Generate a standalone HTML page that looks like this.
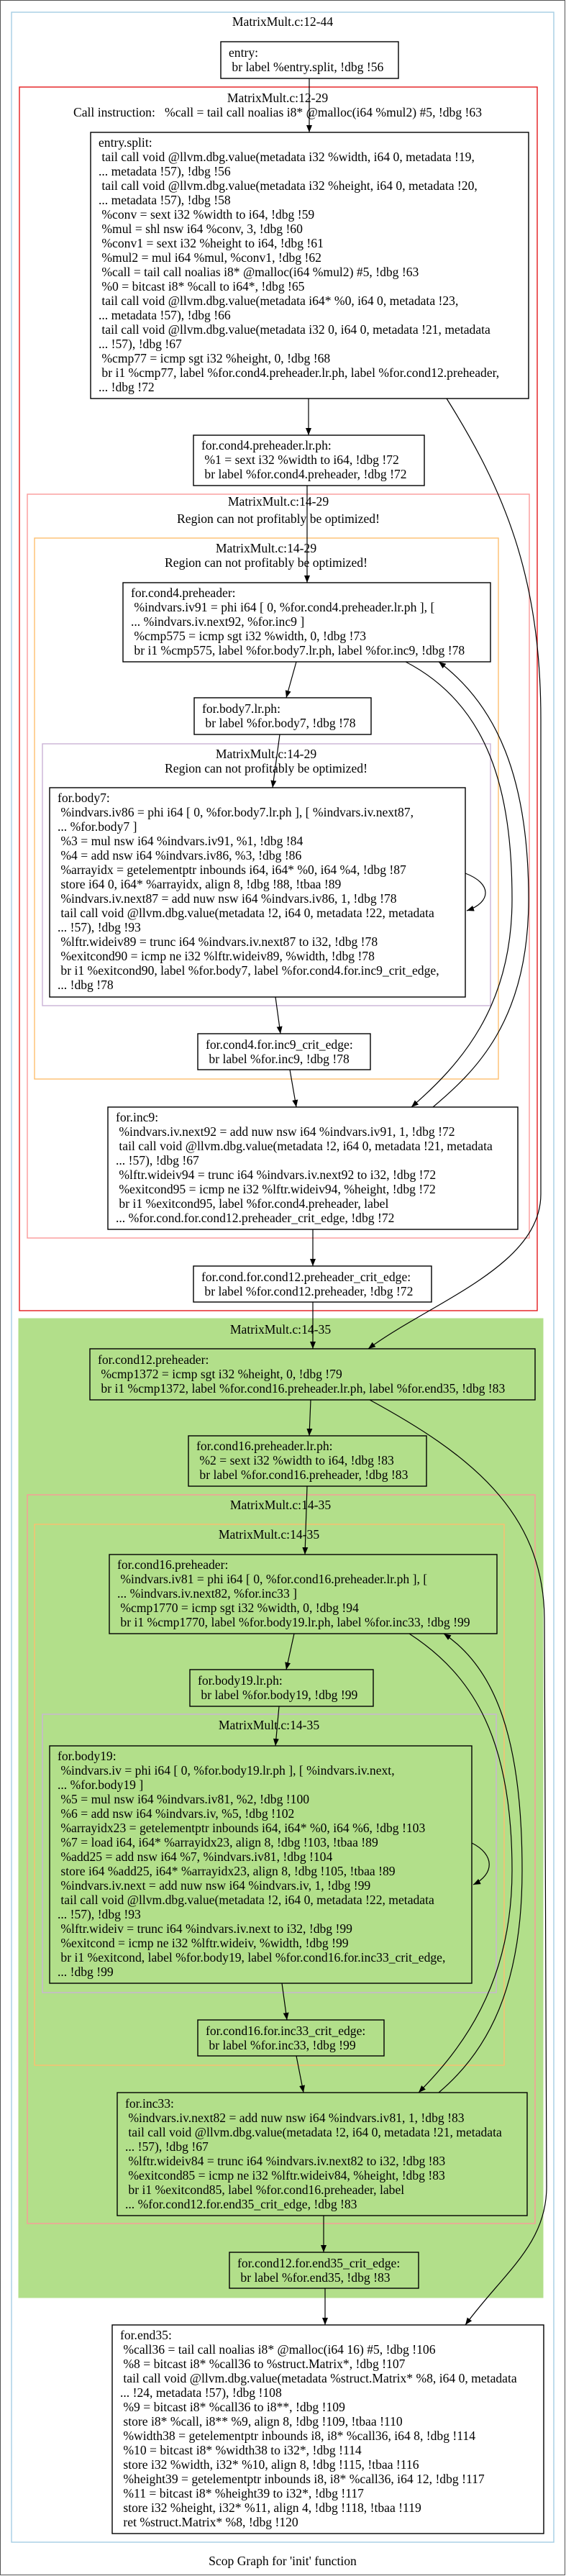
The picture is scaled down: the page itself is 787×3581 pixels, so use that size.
<!DOCTYPE html>
<html><head><meta charset="utf-8"><style>
html,body{margin:0;padding:0;background:#fff;}
svg{display:block;}
text{font-family:"Liberation Serif",serif;font-size:17.6px;fill:#000;white-space:pre;}
.c{text-anchor:middle;}
.b{fill:#fff;stroke:#000;stroke-width:1.4;}
.g{fill:none;stroke:#000;stroke-width:1.4;}
.e{fill:none;stroke:#000;stroke-width:1.2;marker-end:url(#ah);}
</style></head><body>
<svg width="787" height="3581" viewBox="0 0 787 3581" xmlns="http://www.w3.org/2000/svg">
<defs><marker id="ah" markerWidth="10" markerHeight="8" refX="10" refY="4" orient="auto" markerUnits="userSpaceOnUse"><path d="M0,0 L10,4 L0,8 z" fill="#000"/></marker></defs>
<rect x="0.5" y="0.5" width="785" height="3579" fill="#fff" stroke="#555" stroke-width="1"/>
<!-- clusters -->
<rect x="16" y="17" width="754" height="3517" fill="none" stroke="#a6cee3" stroke-width="1.4"/>
<text class="c" x="393" y="36">MatrixMult.c:12-44</text>
<rect x="27" y="121" width="720" height="1701" fill="none" stroke="#e31a1c" stroke-width="1.4"/>
<text class="c" x="386" y="142">MatrixMult.c:12-29</text>
<text class="c" x="386" y="162">Call instruction:   %call = tail call noalias i8* @malloc(i64 %mul2) #5, !dbg !63</text>
<rect x="38" y="687" width="698" height="1034" fill="none" stroke="#fb9a99" stroke-width="1.4"/>
<text class="c" x="387" y="703">MatrixMult.c:14-29</text>
<text class="c" x="387" y="727">Region can not profitably be optimized!</text>
<rect x="48" y="748" width="645" height="752" fill="none" stroke="#fdbf6f" stroke-width="1.4"/>
<text class="c" x="370" y="768">MatrixMult.c:14-29</text>
<text class="c" x="370" y="788">Region can not profitably be optimized!</text>
<rect x="59" y="1034" width="623" height="364" fill="none" stroke="#cab2d6" stroke-width="1.4"/>
<text class="c" x="370" y="1054">MatrixMult.c:14-29</text>
<text class="c" x="370" y="1074">Region can not profitably be optimized!</text>

<rect x="26" y="1833" width="729" height="1361" fill="#b2df8a" stroke="#b2df8a"/>
<text class="c" x="390" y="1854">MatrixMult.c:14-35</text>
<rect x="38" y="2078" width="706" height="1013" fill="none" stroke="#fb9a99" stroke-width="1.4"/>
<text class="c" x="390" y="2098">MatrixMult.c:14-35</text>
<rect x="48" y="2119" width="653" height="752" fill="none" stroke="#fdbf6f" stroke-width="1.4"/>
<text class="c" x="374" y="2139">MatrixMult.c:14-35</text>
<rect x="59" y="2383" width="631" height="387" fill="none" stroke="#cab2d6" stroke-width="1.4"/>
<text class="c" x="374" y="2404">MatrixMult.c:14-35</text>

<!-- boxes -->
<rect class="b" x="307" y="58" width="247" height="51"/>
<text x="318" y="79">entry:</text>
<text x="318" y="99"> br label %entry.split, !dbg !56</text>

<rect class="b" x="126" y="184" width="609" height="370"/>
<text x="137" y="204">entry.split:</text>
<text x="137" y="224"> tail call void @llvm.dbg.value(metadata i32 %width, i64 0, metadata !19,</text>
<text x="137" y="244">... metadata !57), !dbg !56</text>
<text x="137" y="264"> tail call void @llvm.dbg.value(metadata i32 %height, i64 0, metadata !20,</text>
<text x="137" y="284">... metadata !57), !dbg !58</text>
<text x="137" y="304"> %conv = sext i32 %width to i64, !dbg !59</text>
<text x="137" y="324"> %mul = shl nsw i64 %conv, 3, !dbg !60</text>
<text x="137" y="344"> %conv1 = sext i32 %height to i64, !dbg !61</text>
<text x="137" y="364"> %mul2 = mul i64 %mul, %conv1, !dbg !62</text>
<text x="137" y="384"> %call = tail call noalias i8* @malloc(i64 %mul2) #5, !dbg !63</text>
<text x="137" y="404"> %0 = bitcast i8* %call to i64*, !dbg !65</text>
<text x="137" y="424"> tail call void @llvm.dbg.value(metadata i64* %0, i64 0, metadata !23,</text>
<text x="137" y="444">... metadata !57), !dbg !66</text>
<text x="137" y="464"> tail call void @llvm.dbg.value(metadata i32 0, i64 0, metadata !21, metadata</text>
<text x="137" y="484">... !57), !dbg !67</text>
<text x="137" y="504"> %cmp77 = icmp sgt i32 %height, 0, !dbg !68</text>
<text x="137" y="524"> br i1 %cmp77, label %for.cond4.preheader.lr.ph, label %for.cond12.preheader,</text>
<text x="137" y="544">... !dbg !72</text>

<rect class="b" x="269" y="605" width="321" height="70"/>
<text x="280" y="625">for.cond4.preheader.lr.ph:</text>
<text x="280" y="645"> %1 = sext i32 %width to i64, !dbg !72</text>
<text x="280" y="665"> br label %for.cond4.preheader, !dbg !72</text>

<rect class="b" x="171" y="810" width="511" height="110"/>
<text x="182" y="830">for.cond4.preheader:</text>
<text x="182" y="850"> %indvars.iv91 = phi i64 [ 0, %for.cond4.preheader.lr.ph ], [</text>
<text x="182" y="870">... %indvars.iv.next92, %for.inc9 ]</text>
<text x="182" y="890"> %cmp575 = icmp sgt i32 %width, 0, !dbg !73</text>
<text x="182" y="910"> br i1 %cmp575, label %for.body7.lr.ph, label %for.inc9, !dbg !78</text>

<rect class="b" x="270" y="970" width="246" height="51"/>
<text x="281" y="991">for.body7.lr.ph:</text>
<text x="281" y="1011"> br label %for.body7, !dbg !78</text>

<rect class="b" x="69" y="1095" width="578" height="291"/>
<text x="80" y="1115">for.body7:</text>
<text x="80" y="1135"> %indvars.iv86 = phi i64 [ 0, %for.body7.lr.ph ], [ %indvars.iv.next87,</text>
<text x="80" y="1155">... %for.body7 ]</text>
<text x="80" y="1175"> %3 = mul nsw i64 %indvars.iv91, %1, !dbg !84</text>
<text x="80" y="1195"> %4 = add nsw i64 %indvars.iv86, %3, !dbg !86</text>
<text x="80" y="1215"> %arrayidx = getelementptr inbounds i64, i64* %0, i64 %4, !dbg !87</text>
<text x="80" y="1235"> store i64 0, i64* %arrayidx, align 8, !dbg !88, !tbaa !89</text>
<text x="80" y="1255"> %indvars.iv.next87 = add nuw nsw i64 %indvars.iv86, 1, !dbg !78</text>
<text x="80" y="1275"> tail call void @llvm.dbg.value(metadata !2, i64 0, metadata !22, metadata</text>
<text x="80" y="1295">... !57), !dbg !93</text>
<text x="80" y="1315"> %lftr.wideiv89 = trunc i64 %indvars.iv.next87 to i32, !dbg !78</text>
<text x="80" y="1335"> %exitcond90 = icmp ne i32 %lftr.wideiv89, %width, !dbg !78</text>
<text x="80" y="1355"> br i1 %exitcond90, label %for.body7, label %for.cond4.for.inc9_crit_edge,</text>
<text x="80" y="1375">... !dbg !78</text>

<rect class="b" x="275" y="1437" width="240" height="50"/>
<text x="286" y="1458">for.cond4.for.inc9_crit_edge:</text>
<text x="286" y="1478"> br label %for.inc9, !dbg !78</text>

<rect class="b" x="150" y="1539" width="570" height="170"/>
<text x="161" y="1559">for.inc9:</text>
<text x="161" y="1579"> %indvars.iv.next92 = add nuw nsw i64 %indvars.iv91, 1, !dbg !72</text>
<text x="161" y="1599"> tail call void @llvm.dbg.value(metadata !2, i64 0, metadata !21, metadata</text>
<text x="161" y="1619">... !57), !dbg !67</text>
<text x="161" y="1639"> %lftr.wideiv94 = trunc i64 %indvars.iv.next92 to i32, !dbg !72</text>
<text x="161" y="1659"> %exitcond95 = icmp ne i32 %lftr.wideiv94, %height, !dbg !72</text>
<text x="161" y="1679"> br i1 %exitcond95, label %for.cond4.preheader, label</text>
<text x="161" y="1699">... %for.cond.for.cond12.preheader_crit_edge, !dbg !72</text>

<rect class="b" x="269" y="1760" width="331" height="50"/>
<text x="280" y="1781">for.cond.for.cond12.preheader_crit_edge:</text>
<text x="280" y="1801"> br label %for.cond12.preheader, !dbg !72</text>

<rect class="g" x="125" y="1875" width="619" height="71"/>
<text x="136" y="1896">for.cond12.preheader:</text>
<text x="136" y="1916"> %cmp1372 = icmp sgt i32 %height, 0, !dbg !79</text>
<text x="136" y="1936"> br i1 %cmp1372, label %for.cond16.preheader.lr.ph, label %for.end35, !dbg !83</text>

<rect class="g" x="262" y="1996" width="331" height="70"/>
<text x="273" y="2016">for.cond16.preheader.lr.ph:</text>
<text x="273" y="2036"> %2 = sext i32 %width to i64, !dbg !83</text>
<text x="273" y="2056"> br label %for.cond16.preheader, !dbg !83</text>

<rect class="g" x="152" y="2161" width="539" height="110"/>
<text x="163" y="2181">for.cond16.preheader:</text>
<text x="163" y="2201"> %indvars.iv81 = phi i64 [ 0, %for.cond16.preheader.lr.ph ], [</text>
<text x="163" y="2221">... %indvars.iv.next82, %for.inc33 ]</text>
<text x="163" y="2241"> %cmp1770 = icmp sgt i32 %width, 0, !dbg !94</text>
<text x="163" y="2261"> br i1 %cmp1770, label %for.body19.lr.ph, label %for.inc33, !dbg !99</text>

<rect class="g" x="264" y="2321" width="255" height="51"/>
<text x="275" y="2342">for.body19.lr.ph:</text>
<text x="275" y="2362"> br label %for.body19, !dbg !99</text>

<rect class="g" x="69" y="2427" width="587" height="330"/>
<text x="80" y="2447">for.body19:</text>
<text x="80" y="2467"> %indvars.iv = phi i64 [ 0, %for.body19.lr.ph ], [ %indvars.iv.next,</text>
<text x="80" y="2487">... %for.body19 ]</text>
<text x="80" y="2507"> %5 = mul nsw i64 %indvars.iv81, %2, !dbg !100</text>
<text x="80" y="2527"> %6 = add nsw i64 %indvars.iv, %5, !dbg !102</text>
<text x="80" y="2547"> %arrayidx23 = getelementptr inbounds i64, i64* %0, i64 %6, !dbg !103</text>
<text x="80" y="2567"> %7 = load i64, i64* %arrayidx23, align 8, !dbg !103, !tbaa !89</text>
<text x="80" y="2587"> %add25 = add nsw i64 %7, %indvars.iv81, !dbg !104</text>
<text x="80" y="2607"> store i64 %add25, i64* %arrayidx23, align 8, !dbg !105, !tbaa !89</text>
<text x="80" y="2627"> %indvars.iv.next = add nuw nsw i64 %indvars.iv, 1, !dbg !99</text>
<text x="80" y="2647"> tail call void @llvm.dbg.value(metadata !2, i64 0, metadata !22, metadata</text>
<text x="80" y="2667">... !57), !dbg !93</text>
<text x="80" y="2687"> %lftr.wideiv = trunc i64 %indvars.iv.next to i32, !dbg !99</text>
<text x="80" y="2707"> %exitcond = icmp ne i32 %lftr.wideiv, %width, !dbg !99</text>
<text x="80" y="2727"> br i1 %exitcond, label %for.body19, label %for.cond16.for.inc33_crit_edge,</text>
<text x="80" y="2747">... !dbg !99</text>

<rect class="g" x="275" y="2808" width="259" height="50"/>
<text x="286" y="2829">for.cond16.for.inc33_crit_edge:</text>
<text x="286" y="2849"> br label %for.inc33, !dbg !99</text>

<rect class="g" x="163" y="2909" width="570" height="171"/>
<text x="174" y="2930">for.inc33:</text>
<text x="174" y="2950"> %indvars.iv.next82 = add nuw nsw i64 %indvars.iv81, 1, !dbg !83</text>
<text x="174" y="2970"> tail call void @llvm.dbg.value(metadata !2, i64 0, metadata !21, metadata</text>
<text x="174" y="2990">... !57), !dbg !67</text>
<text x="174" y="3010"> %lftr.wideiv84 = trunc i64 %indvars.iv.next82 to i32, !dbg !83</text>
<text x="174" y="3030"> %exitcond85 = icmp ne i32 %lftr.wideiv84, %height, !dbg !83</text>
<text x="174" y="3050"> br i1 %exitcond85, label %for.cond16.preheader, label</text>
<text x="174" y="3070">... %for.cond12.for.end35_crit_edge, !dbg !83</text>

<rect class="g" x="319" y="3131" width="263" height="50"/>
<text x="330" y="3152">for.cond12.for.end35_crit_edge:</text>
<text x="330" y="3172"> br label %for.end35, !dbg !83</text>

<rect class="b" x="156" y="3232" width="600" height="290"/>
<text x="167" y="3252">for.end35:</text>
<text x="167" y="3272"> %call36 = tail call noalias i8* @malloc(i64 16) #5, !dbg !106</text>
<text x="167" y="3292"> %8 = bitcast i8* %call36 to %struct.Matrix*, !dbg !107</text>
<text x="167" y="3312"> tail call void @llvm.dbg.value(metadata %struct.Matrix* %8, i64 0, metadata</text>
<text x="167" y="3332">... !24, metadata !57), !dbg !108</text>
<text x="167" y="3352"> %9 = bitcast i8* %call36 to i8**, !dbg !109</text>
<text x="167" y="3372"> store i8* %call, i8** %9, align 8, !dbg !109, !tbaa !110</text>
<text x="167" y="3392"> %width38 = getelementptr inbounds i8, i8* %call36, i64 8, !dbg !114</text>
<text x="167" y="3412"> %10 = bitcast i8* %width38 to i32*, !dbg !114</text>
<text x="167" y="3432"> store i32 %width, i32* %10, align 8, !dbg !115, !tbaa !116</text>
<text x="167" y="3452"> %height39 = getelementptr inbounds i8, i8* %call36, i64 12, !dbg !117</text>
<text x="167" y="3472"> %11 = bitcast i8* %height39 to i32*, !dbg !117</text>
<text x="167" y="3492"> store i32 %height, i32* %11, align 4, !dbg !118, !tbaa !119</text>
<text x="167" y="3512"> ret %struct.Matrix* %8, !dbg !120</text>

<text class="c" x="393" y="3566">Scop Graph for 'init' function</text>

<!-- edges -->
<path class="e" d="M430,109 L430,184"/>
<path class="e" d="M429,554 L429,605"/>
<path class="e" d="M621,554 C700,680 752,800 752,1000 L752,1660 C752,1760 600,1810 512,1875"/>
<path class="e" d="M427,675 L427,810"/>
<path class="e" d="M412,920 L398,970"/>
<path class="e" d="M564,920 C680,980 712,1100 712,1250 C712,1400 640,1480 572,1539"/>
<path class="e" d="M602,1539 C660,1490 735,1420 735,1250 C735,1080 690,980 610,920"/>
<path class="e" d="M389,1021 L379,1095"/>
<path class="e" d="M647,1214 C684,1228 684,1254 649,1266"/>
<path class="e" d="M383,1386 L390,1437"/>
<path class="e" d="M403,1487 L412,1539"/>
<path class="e" d="M435,1709 L435,1760"/>
<path class="e" d="M435,1810 L435,1875"/>
<path class="e" d="M432,1946 L430,1996"/>
<path class="e" d="M514,1946 C650,2020 756,2100 757,2250 L760,3040 C760,3120 700,3160 647,3232"/>
<path class="e" d="M427,2066 L424,2161"/>
<path class="e" d="M409,2271 L398,2321"/>
<path class="e" d="M569,2271 C660,2330 712,2420 712,2600 C712,2760 640,2850 582,2909"/>
<path class="e" d="M610,2909 C680,2850 726,2760 726,2600 C726,2420 690,2320 617,2271"/>
<path class="e" d="M388,2372 L383,2427"/>
<path class="e" d="M656,2562 C688,2578 688,2605 658,2620"/>
<path class="e" d="M392,2757 L399,2808"/>
<path class="e" d="M412,2858 L422,2909"/>
<path class="e" d="M450,3080 L450,3131"/>
<path class="e" d="M452,3181 L452,3232"/>
</svg>
</body></html>
